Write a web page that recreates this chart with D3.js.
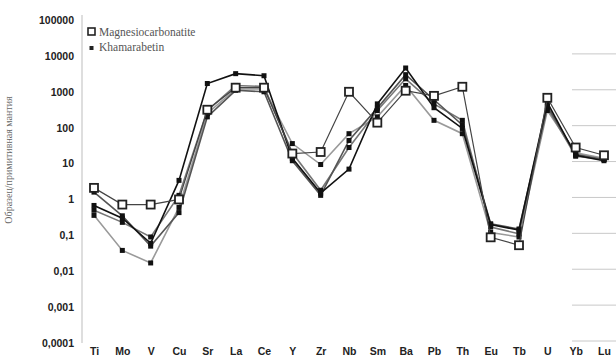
<!DOCTYPE html>
<html><head><meta charset="utf-8">
<script src="https://cdn.jsdelivr.net/npm/d3@7"></script>
<style>body{margin:0;background:#fff}svg{display:block}.serif{font-family:'Liberation Serif','DejaVu Serif',serif}</style>
</head><body>
<svg id="c" width="616" height="363"></svg>
<script>
const categories = ["Ti","Mo","V","Cu","Sr","La","Ce","Y","Zr","Nb","Sm","Ba","Pb","Th","Eu","Tb","U","Yb","Lu"];
const tickValues = [100000,10000,1000,100,10,1,0.1,0.01,0.001,0.0001];
const tickLabels = ["100000","10000","1000","100","10","1","0,1","0,01","0,001","0,0001"];
const magnesiocarbonatite = [2.1,0.72,0.72,1.0,316,1300,1300,19,21,1000,138,1070,770,1380,0.088,0.053,680,28,17];
const khamA = [0.68,0.3,0.06,3.4,1700,3200,2800,14,1.5,7,460,4600,360,95,0.2,0.14,500,17,12];
const khamB = [0.5,0.23,0.09,1.3,300,1500,1400,20,1.8,28,300,2300,460,160,0.17,0.11,360,16,13];
const khamC = [0.36,0.038,0.017,0.6,250,1200,1200,36,9.4,68,200,1500,160,68,0.12,0.09,300,20,14];
const khamD = [1.6,0.35,0.05,0.43,200,1100,1000,12,1.3,44,350,3000,600,120,0.21,0.15,400,18,13];
const legendLabels = ["Magnesiocarbonatite","Khamarabetin"];
const axisTitle = "Образец/примитивная мантия";

const svg = d3.select("#c");
const x = d3.scalePoint().domain(categories).range([94,604]);
const y = d3.scaleLog().domain([0.0001,100000]).range([343,20]);

// right-side short grid segments
svg.append("g").selectAll("line").data(tickValues.slice(1)).join("line")
  .attr("x1",572).attr("x2",616).attr("y1",d=>y(d)-2).attr("y2",d=>y(d)-2)
  .attr("stroke","#c8c8c8").attr("stroke-width",1);

// y axis
const yAxis = d3.axisLeft(y).tickValues(tickValues)
  .tickFormat(d=>tickLabels[tickValues.indexOf(d)]).tickSize(0).tickPadding(8);
const gy = svg.append("g").attr("transform","translate(82,0)").call(yAxis);
gy.select(".domain").attr("stroke","#bdbdbd").attr("d","M0,15V343");
gy.selectAll("text").attr("font-family","Liberation Sans, Arial, sans-serif")
  .attr("font-weight","bold").attr("font-size",10.5).attr("fill","#222");

// x axis labels
const xAxis = d3.axisBottom(x).tickSize(0).tickPadding(4);
const gx = svg.append("g").attr("transform","translate(0,344)").call(xAxis);
gx.select(".domain").remove();
gx.selectAll("text").attr("font-family","Liberation Sans, Arial, sans-serif")
  .attr("font-weight","bold").attr("font-size",10.5).attr("fill","#222");

// axis title
svg.append("text").attr("class","serif").attr("transform","translate(12,160) rotate(-90)")
  .attr("text-anchor","middle").attr("font-size",10).attr("fill","#666").text(axisTitle);

const line = d3.line().x((d,i)=>x(categories[i])).y(d=>y(d));

const filled = [
  {vals:khamC,color:"#9a9a9a"},
  {vals:khamB,color:"#777"},
  {vals:khamD,color:"#555"},
  {vals:khamA,color:"#111"}
];
filled.forEach(s=>{
  svg.append("path").datum(s.vals).attr("d",line).attr("fill","none")
    .attr("stroke",s.color).attr("stroke-width",1.6);
});
filled.forEach(s=>{
  svg.append("g").selectAll("rect").data(s.vals).join("rect")
    .attr("x",(d,i)=>x(categories[i])-2.5).attr("y",d=>y(d)-2.5)
    .attr("width",5).attr("height",5).attr("fill","#111");
});
svg.append("path").datum(magnesiocarbonatite).attr("d",line).attr("fill","none")
  .attr("stroke","#444").attr("stroke-width",1.2);
svg.append("g").selectAll("rect").data(magnesiocarbonatite).join("rect")
  .attr("x",(d,i)=>x(categories[i])-4).attr("y",d=>y(d)-4)
  .attr("width",8).attr("height",8).attr("fill","#fff").attr("stroke","#222").attr("stroke-width",1.8);

// legend
const lg = svg.append("g");
lg.append("rect").attr("x",88).attr("y",28).attr("width",7).attr("height",7)
  .attr("fill","#fff").attr("stroke","#222").attr("stroke-width",1.6);
lg.append("rect").attr("x",89.5).attr("y",46).attr("width",4).attr("height",4).attr("fill","#222");
lg.selectAll("text").data(legendLabels).join("text").attr("class","serif")
  .attr("x",99).attr("y",(d,i)=>35.5+i*15)
  .attr("font-size",11.5).attr("fill","#555").text(d=>d);
</script>
</body></html>
